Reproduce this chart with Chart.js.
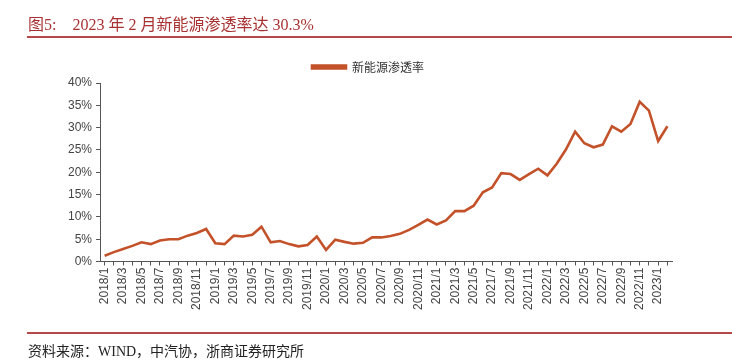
<!DOCTYPE html>
<html><head><meta charset="utf-8">
<script src="https://cdn.jsdelivr.net/npm/chart.js@4"></script>
<style>
html,body{margin:0;padding:0;background:#fff;}
#wrap{position:relative;width:732px;height:363px;overflow:hidden;}
#title{position:absolute;left:28px;top:11px;font-family:"Liberation Serif","Noto Sans CJK SC",serif;font-size:16px;color:#a83232;white-space:pre;}
#tline{position:absolute;left:27px;top:36px;width:705px;height:2px;background:#b5484a;}
#bline{position:absolute;left:27px;top:332px;width:705px;height:2px;background:#b5484a;}
#src{position:absolute;left:28px;top:340px;font-family:"Liberation Serif","Noto Sans CJK SC",serif;font-size:14px;color:#222;white-space:pre;}
#cv{position:absolute;left:0;top:0;}
</style></head>
<body><div id="wrap">
<canvas id="cv" width="732" height="363"></canvas>
<div id="title">图5:    2023 年 2 月新能源渗透率达 30.3%</div>
<div id="tline"></div>
<div id="bline"></div>
<div id="src">资料来源：WIND，中汽协，浙商证券研究所</div>
</div>
<script>
const seriesName = "新能源渗透率";
const years = [2018, 2019, 2020, 2021, 2022, 2023];
const categories = [];
years.forEach(y => { const n = y === 2023 ? 2 : 12; for (let m = 1; m <= n; m++) categories.push(y + "/" + m); });
const penetration = [
  1.3, 2.1, 2.8, 3.5, 4.3, 3.9, 4.7, 5.0, 5.0, 5.8, 6.4, 7.3,
  4.1, 3.9, 5.8, 5.6, 6.0, 7.8, 4.3, 4.6, 3.9, 3.4, 3.7, 5.6,
  2.6, 4.9, 4.4, 4.0, 4.2, 5.4, 5.4, 5.7, 6.2, 7.1, 8.2, 9.4,
  8.3, 9.2, 11.3, 11.3, 12.5, 15.5, 16.6, 19.8, 19.6, 18.3, 19.6, 20.8,
  19.3, 21.9, 25.1, 29.1, 26.5, 25.6, 26.2, 30.3, 29.1, 30.8, 35.8, 33.8,
  27.0, 30.3
];
const yTicks = [0, 5, 10, 15, 20, 25, 30, 35, 40];

new Chart(document.getElementById('cv'), {
  type: 'line',
  data: { labels: categories, datasets: [{
    label: seriesName, data: penetration,
    borderColor: '#c3522a', backgroundColor: '#c3522a',
    borderWidth: 2.6, pointRadius: 0, tension: 0
  }]},
  options: {
    responsive: false, animation: false,
    layout: { padding: { left: 64, right: 60, top: 53, bottom: 51 } },
    plugins: {
      legend: { display: true, position: 'top',
        labels: { boxWidth: 34, boxHeight: 3, color: '#333',
          font: { family: '"Noto Sans CJK SC", sans-serif', size: 12 }, padding: 8 } },
      tooltip: { enabled: false }
    },
    scales: {
      x: { offset: true,
        grid: { display: true, drawOnChartArea: false, drawTicks: true, tickLength: 4, color: '#555', offset: false },
        border: { display: true, color: '#555' },
        ticks: { autoSkip: false, maxRotation: 90, minRotation: 90, color: '#444',
          font: { family: '"Liberation Sans", Arial, sans-serif', size: 12 }, padding: 2,
          callback: function(v, i) { return i % 2 === 0 ? categories[i] : ''; } } },
      y: { min: 0, max: 40,
        afterBuildTicks: a => { a.ticks = yTicks.map(v => ({ value: v })); },
        grid: { display: true, drawOnChartArea: false, drawTicks: true, tickLength: 4, color: '#555' },
        border: { display: true, color: '#555' },
        ticks: { color: '#444', font: { family: '"Liberation Sans", Arial, sans-serif', size: 12 }, padding: 4,
          callback: v => v + '%' } }
    }
  }
});
</script></body></html>
